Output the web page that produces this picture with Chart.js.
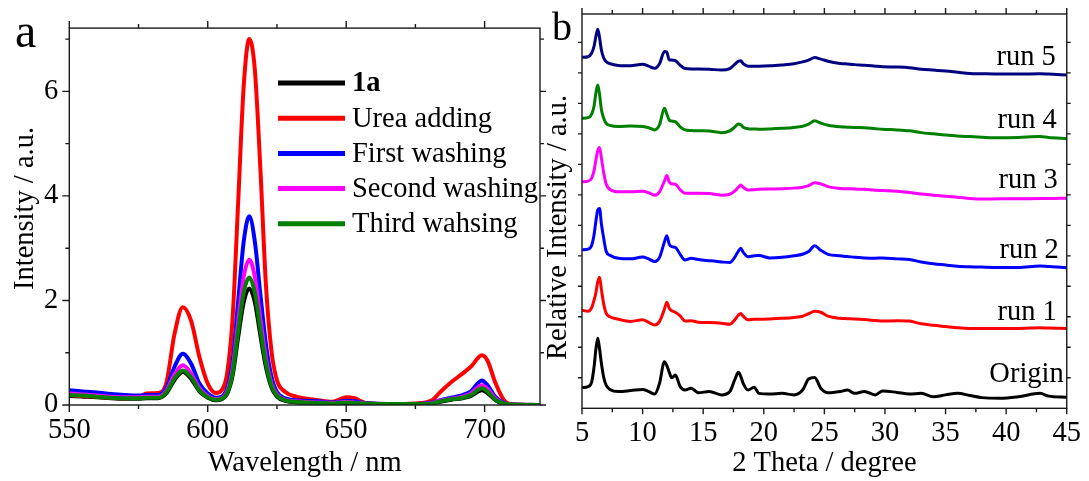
<!DOCTYPE html>
<html>
<head>
<meta charset="utf-8">
<script src="https://cdn.jsdelivr.net/npm/chart.js@4.4.1/dist/chart.umd.min.js"></script>
<style>
  body { margin: 0; background: #fff; width: 1089px; height: 481px; overflow: hidden; }
  canvas.panel { position: absolute; top: 0; }
  #emission { left: 0; }
  #xrd { left: 530px; }
</style>
</head>
<body>
<canvas id="emission" class="panel" width="546" height="481"></canvas>
<canvas id="xrd" class="panel" width="559" height="481"></canvas>
<script>
// ---- (a) emission spectra ----
const wavelength = [550, 555, 560, 565, 570, 575, 578, 582, 585, 588, 591, 594, 597, 600, 603, 605, 607, 609, 611, 613, 615, 617, 619, 621, 623, 625, 628, 632, 640, 645, 650, 653, 657, 665, 675, 681, 684, 688, 692, 695, 699, 701, 704, 707, 710, 720];
const sample1a   = [0.17, 0.16, 0.15, 0.13, 0.12, 0.12, 0.13, 0.13, 0.22, 0.48, 0.63, 0.50, 0.26, 0.14, 0.09, 0.11, 0.21, 0.57, 1.30, 1.97, 2.23, 1.97, 1.33, 0.73, 0.34, 0.16, 0.08, 0.05, 0.04, 0.03, 0.04, 0.04, 0.02, 0.01, 0.01, 0.03, 0.06, 0.10, 0.13, 0.17, 0.28, 0.23, 0.09, 0.02, 0.01, 0];
const ureaAdding = [0.19, 0.17, 0.16, 0.14, 0.13, 0.15, 0.22, 0.23, 0.41, 1.36, 1.87, 1.61, 0.92, 0.41, 0.23, 0.28, 0.60, 1.68, 3.89, 6.11, 7.00, 6.42, 4.53, 2.31, 1.04, 0.47, 0.25, 0.16, 0.09, 0.06, 0.15, 0.13, 0.04, 0.02, 0.03, 0.09, 0.25, 0.44, 0.60, 0.73, 0.95, 0.85, 0.41, 0.09, 0.01, 0];
const firstWash  = [0.28, 0.26, 0.24, 0.21, 0.19, 0.18, 0.19, 0.19, 0.32, 0.73, 0.98, 0.79, 0.41, 0.22, 0.14, 0.16, 0.32, 0.85, 1.99, 3.13, 3.61, 3.13, 2.12, 1.17, 0.54, 0.25, 0.13, 0.09, 0.07, 0.05, 0.08, 0.07, 0.04, 0.02, 0.02, 0.05, 0.09, 0.14, 0.19, 0.26, 0.47, 0.38, 0.15, 0.04, 0.01, 0];
const secondWash = [0.22, 0.20, 0.18, 0.16, 0.15, 0.15, 0.16, 0.16, 0.27, 0.58, 0.76, 0.60, 0.32, 0.17, 0.11, 0.13, 0.26, 0.70, 1.60, 2.45, 2.78, 2.45, 1.65, 0.90, 0.42, 0.20, 0.10, 0.07, 0.05, 0.04, 0.06, 0.05, 0.03, 0.02, 0.02, 0.04, 0.08, 0.12, 0.16, 0.22, 0.38, 0.31, 0.12, 0.03, 0.01, 0];
const thirdWash  = [0.19, 0.18, 0.16, 0.14, 0.13, 0.13, 0.14, 0.14, 0.24, 0.51, 0.66, 0.53, 0.28, 0.15, 0.10, 0.12, 0.23, 0.62, 1.42, 2.15, 2.44, 2.15, 1.45, 0.80, 0.37, 0.18, 0.09, 0.06, 0.04, 0.03, 0.05, 0.04, 0.03, 0.02, 0.02, 0.03, 0.07, 0.11, 0.14, 0.19, 0.32, 0.26, 0.10, 0.03, 0.01, 0];

const waveTicks = [550, 600, 650, 700];
const waveMinor = [575, 625, 675];
const intensityTicks = [0, 2, 4, 6];
const intensityMinor = [1, 3, 5, 7];

// ---- (b) XRD patterns, stacked (offset units) ----
const theta = [5, 5.5, 5.8, 6.0, 6.15, 6.3, 6.45, 6.6, 6.8, 7.0, 7.3, 8, 9, 10, 10.5, 11, 11.4, 11.8, 12.0, 12.2, 12.4, 12.7, 13.1, 13.5, 14, 14.6, 15.5, 16.5, 17.2, 17.6, 17.9, 18.1, 18.3, 18.7, 19.2, 19.6, 20.5, 21.5, 22.5, 23.2, 23.7, 24.2, 24.7, 25.3, 26.3, 26.9, 27.5, 28.3, 29.2, 29.8, 31, 32, 33, 34, 35, 36, 37, 38, 39.5, 41, 42.8, 43.5, 45];
const xrdOrigin = [0.68, 0.71, 0.87, 1.37, 1.95, 2.30, 1.95, 1.48, 1.00, 0.75, 0.62, 0.55, 0.58, 0.62, 0.55, 0.47, 0.82, 1.53, 1.40, 1.18, 1.00, 1.09, 0.71, 0.60, 0.66, 0.51, 0.55, 0.44, 0.55, 0.93, 1.18, 1.05, 0.82, 0.60, 0.69, 0.49, 0.47, 0.49, 0.44, 0.60, 0.96, 1.01, 0.66, 0.51, 0.55, 0.60, 0.49, 0.55, 0.44, 0.57, 0.52, 0.47, 0.49, 0.38, 0.44, 0.49, 0.42, 0.35, 0.33, 0.38, 0.49, 0.40, 0.36];
const xrdRun1 = [3.22, 3.18, 3.30, 3.55, 3.80, 4.15, 4.30, 3.90, 3.40, 3.11, 3.00, 2.92, 2.85, 2.90, 2.82, 2.73, 2.85, 3.25, 3.48, 3.28, 3.20, 3.15, 3.03, 2.86, 2.87, 2.82, 2.81, 2.79, 2.76, 2.90, 3.05, 3.11, 3.02, 2.90, 2.92, 2.92, 2.93, 2.95, 2.98, 3.02, 3.10, 3.18, 3.15, 3.02, 2.95, 2.94, 2.93, 2.91, 2.88, 2.86, 2.87, 2.86, 2.77, 2.72, 2.68, 2.64, 2.62, 2.62, 2.62, 2.62, 2.64, 2.63, 2.62];
const xrdRun2 = [5.20, 5.22, 5.35, 5.70, 6.15, 6.50, 6.55, 6.05, 5.55, 5.14, 5.02, 4.92, 4.90, 4.96, 4.90, 4.81, 4.95, 5.45, 5.66, 5.38, 5.30, 5.28, 5.05, 4.86, 4.92, 4.88, 4.84, 4.80, 4.78, 4.95, 5.15, 5.25, 5.12, 4.97, 5.00, 5.01, 4.93, 4.95, 5.00, 5.05, 5.14, 5.33, 5.18, 5.05, 5.00, 4.98, 4.95, 4.93, 4.92, 4.93, 4.90, 4.88, 4.80, 4.74, 4.70, 4.66, 4.64, 4.63, 4.62, 4.62, 4.67, 4.65, 4.61];
const xrdRun3 = [7.43, 7.45, 7.55, 7.80, 8.15, 8.45, 8.55, 8.20, 7.70, 7.35, 7.18, 7.10, 7.10, 7.12, 7.07, 6.99, 7.10, 7.45, 7.63, 7.42, 7.36, 7.35, 7.17, 7.05, 7.05, 7.05, 7.04, 6.99, 7.02, 7.12, 7.25, 7.32, 7.25, 7.16, 7.17, 7.18, 7.19, 7.20, 7.22, 7.25, 7.30, 7.40, 7.36, 7.27, 7.21, 7.20, 7.19, 7.18, 7.15, 7.14, 7.12, 7.08, 7.03, 6.99, 6.95, 6.92, 6.88, 6.86, 6.87, 6.87, 6.88, 6.88, 6.89];
const xrdRun4 = [9.51, 9.53, 9.65, 9.92, 10.35, 10.60, 10.30, 9.80, 9.50, 9.34, 9.28, 9.24, 9.26, 9.24, 9.20, 9.13, 9.30, 9.84, 9.65, 9.45, 9.42, 9.40, 9.23, 9.13, 9.11, 9.10, 9.09, 9.04, 9.10, 9.22, 9.32, 9.30, 9.22, 9.17, 9.16, 9.15, 9.16, 9.18, 9.21, 9.25, 9.32, 9.43, 9.35, 9.28, 9.23, 9.22, 9.21, 9.20, 9.17, 9.15, 9.13, 9.10, 9.04, 9.00, 8.96, 8.93, 8.91, 8.89, 8.87, 8.88, 8.91, 8.88, 8.85];
const xrdRun5 = [11.51, 11.53, 11.65, 11.88, 12.20, 12.43, 12.15, 11.75, 11.48, 11.37, 11.30, 11.24, 11.23, 11.28, 11.22, 11.15, 11.30, 11.70, 11.68, 11.42, 11.42, 11.40, 11.25, 11.14, 11.13, 11.13, 11.12, 11.09, 11.14, 11.28, 11.38, 11.40, 11.30, 11.22, 11.22, 11.22, 11.23, 11.26, 11.30, 11.36, 11.42, 11.50, 11.45, 11.38, 11.31, 11.29, 11.27, 11.25, 11.22, 11.20, 11.19, 11.17, 11.12, 11.09, 11.06, 11.02, 10.98, 10.97, 10.96, 10.96, 10.97, 10.96, 10.93];

const thetaTicks = [5, 10, 15, 20, 25, 30, 35, 40, 45];
const thetaMinor = [7.5, 12.5, 17.5, 22.5, 27.5, 32.5, 37.5, 42.5];
const stackTicks = [1, 2, 3, 4, 5, 6, 7, 8, 9, 10, 11, 12];

const SERIF = '"Liberation Serif", "Times New Roman", serif';
Chart.defaults.font.family = SERIF;
Chart.defaults.color = '#000';

function series(label, xs, ys, color, width, order) {
  return {
    label,
    data: xs.map((x, i) => ({ x, y: ys[i] })),
    borderColor: color,
    backgroundColor: color,
    borderWidth: width,
    pointRadius: 0,
    cubicInterpolationMode: 'monotone',
    fill: false,
    order
  };
}

// box around the plot with outward major/minor ticks on all four sides
const framePlugin = {
  id: 'frame',
  afterDraw(chart, args, o) {
    const { ctx, chartArea: { left, right, top, bottom }, scales: { x, y } } = chart;
    ctx.save();
    ctx.strokeStyle = '#1a1a1a';
    ctx.lineWidth = 1.4;
    ctx.beginPath();
    const seg = (x0, y0, x1, y1) => { ctx.moveTo(x0, y0); ctx.lineTo(x1, y1); };
    const xMarks = (vals, len) => vals.forEach(v => {
      const px = x.getPixelForValue(v);
      seg(px, bottom, px, bottom + len);
      seg(px, top, px, top - len);
    });
    const yMarks = (vals, len) => vals.forEach(v => {
      const py = y.getPixelForValue(v);
      seg(left, py, left - len, py);
      seg(right, py, right + len, py);
    });
    xMarks(o.xMajor, o.major);
    xMarks(o.xMinor, o.minor);
    yMarks(o.yMajor, o.yLen || o.major);
    yMarks(o.yMinor || [], o.minor);
    ctx.stroke();
    ctx.strokeRect(left, top, right - left, bottom - top);
    ctx.restore();
  }
};

// panel letter
const tagPlugin = {
  id: 'tag',
  afterDraw(chart, args, o) {
    const ctx = chart.ctx;
    ctx.save();
    ctx.fillStyle = '#000';
    ctx.font = o.size + 'px ' + SERIF;
    ctx.textBaseline = 'alphabetic';
    ctx.textAlign = 'left';
    ctx.fillText(o.text, o.x, o.y);
    ctx.restore();
  }
};

// rotated y-axis title placed by its centre
const sideTitlePlugin = {
  id: 'sideTitle',
  afterDraw(chart, args, o) {
    const ctx = chart.ctx;
    ctx.save();
    ctx.translate(o.x, o.y);
    ctx.rotate(-Math.PI / 2);
    ctx.fillStyle = '#000';
    ctx.font = '28.5px ' + SERIF;
    ctx.textAlign = 'center';
    ctx.textBaseline = 'alphabetic';
    ctx.fillText(o.text, 0, 0);
    ctx.restore();
  }
};

// legend drawn inside the plot area of (a)
const insideLegend = {
  id: 'insideLegend',
  afterDraw(chart, args, o) {
    const ctx = chart.ctx;
    ctx.save();
    chart.data.datasets.forEach((ds, i) => {
      const y = o.y0 + i * o.step;
      ctx.strokeStyle = ds.borderColor;
      ctx.lineWidth = 5;
      ctx.beginPath();
      ctx.moveTo(o.x0, y);
      ctx.lineTo(o.x1, y);
      ctx.stroke();
      ctx.fillStyle = '#000';
      ctx.font = (i === 0 ? 'bold ' : '') + '28.5px ' + SERIF;
      ctx.textBaseline = 'middle';
      ctx.textAlign = 'left';
      ctx.fillText(ds.label, o.textX, y + 1);
    });
    ctx.restore();
  }
};

// name written just above the right end of each stacked pattern
const endLabels = {
  id: 'endLabels',
  afterDraw(chart, args, o) {
    const { ctx, chartArea, scales: { y } } = chart;
    ctx.save();
    ctx.fillStyle = '#000';
    ctx.font = '28.5px ' + SERIF;
    ctx.textAlign = 'right';
    ctx.textBaseline = 'alphabetic';
    chart.data.datasets.forEach((ds, i) => {
      const last = ds.data[ds.data.length - 1].y;
      const place = o.place[i];
      ctx.fillText(ds.label, chartArea.right - place.inset, y.getPixelForValue(last) - place.lift);
    });
    ctx.restore();
  }
};

function axisFont() { return { size: 28.5, family: SERIF }; }

new Chart(document.getElementById('emission'), {
  type: 'line',
  data: {
    datasets: [
      series('1a', wavelength, sample1a, '#000000', 4, 5),
      series('Urea adding', wavelength, ureaAdding, '#ff0000', 4, 4),
      series('First washing', wavelength, firstWash, '#0000ff', 4, 3),
      series('Second washing', wavelength, secondWash, '#ff00ff', 4, 2),
      series('Third wahsing', wavelength, thirdWash, '#008000', 4, 1)
    ]
  },
  options: {
    responsive: false,
    animation: false,
    devicePixelRatio: 1,
    layout: { padding: { left: 0, top: 25, right: 6, bottom: 0 } },
    scales: {
      x: {
        type: 'linear', min: 550, max: 720,
        afterBuildTicks: s => { s.ticks = waveTicks.map(v => ({ value: v })); },
        afterFit: s => { s.height = 76; },
        grid: { display: false, drawTicks: false },
        border: { display: false },
        ticks: { padding: 8, color: '#000', font: axisFont(), maxRotation: 0 },
        title: { display: true, text: 'Wavelength / nm', padding: 0, color: '#000', font: axisFont() }
      },
      y: {
        type: 'linear', min: 0, max: 7.21,
        afterBuildTicks: s => { s.ticks = intensityTicks.map(v => ({ value: v })); },
        afterFit: s => { s.width = 69.3; },
        grid: { display: false, drawTicks: false },
        border: { display: false },
        ticks: { padding: 11, color: '#000', font: axisFont() }
      }
    },
    plugins: {
      legend: { display: false },
      tooltip: { enabled: false },
      frame: { xMajor: waveTicks, xMinor: waveMinor, yMajor: intensityTicks, yMinor: intensityMinor, major: 7, minor: 4 },
      tag: { text: 'a', x: 15, y: 47, size: 48 },
      sideTitle: { text: 'Intensity / a.u.', x: 33, y: 208.5 },
      insideLegend: { x0: 278, x1: 345, textX: 352, y0: 83, step: 35.2 }
    }
  },
  plugins: [framePlugin, tagPlugin, sideTitlePlugin, insideLegend]
});

new Chart(document.getElementById('xrd'), {
  type: 'line',
  data: {
    datasets: [
      series('Origin', theta, xrdOrigin, '#000000', 3, 1),
      series('run 1', theta, xrdRun1, '#ff0000', 3, 1),
      series('run 2', theta, xrdRun2, '#0000ff', 3, 1),
      series('run 3', theta, xrdRun3, '#ff00ff', 3, 1),
      series('run 4', theta, xrdRun4, '#008000', 3, 1),
      series('run 5', theta, xrdRun5, '#000080', 3, 1)
    ]
  },
  options: {
    responsive: false,
    animation: false,
    devicePixelRatio: 1,
    layout: { padding: { left: 0, top: 14, right: 18, bottom: 0 } },
    scales: {
      x: {
        type: 'linear', min: 5, max: 45,
        afterBuildTicks: s => { s.ticks = thetaTicks.map(v => ({ value: v })); },
        afterFit: s => { s.height = 72.7; },
        grid: { display: false, drawTicks: false },
        border: { display: false },
        ticks: { padding: 8, color: '#000', font: axisFont(), maxRotation: 0 },
        title: { display: true, text: '2 Theta / degree', padding: 0, color: '#000', font: axisFont() }
      },
      y: {
        type: 'linear', min: 0, max: 12.93,
        afterBuildTicks: s => { s.ticks = stackTicks.map(v => ({ value: v })); },
        afterFit: s => { s.width = 52; },
        grid: { display: false, drawTicks: false },
        border: { display: false },
        ticks: { display: false }
      }
    },
    plugins: {
      legend: { display: false },
      tooltip: { enabled: false },
      frame: { xMajor: thetaTicks, xMinor: thetaMinor, yMajor: stackTicks, major: 6, minor: 4, yLen: 4 },
      tag: { text: 'b', x: 22, y: 40, size: 40 },
      sideTitle: { text: 'Relative Intensity / a.u.', x: 36, y: 227.5 },
      endLabels: {
        place: [
          { inset: 3, lift: 15 },
          { inset: 10, lift: 8 },
          { inset: 8, lift: 10 },
          { inset: 9, lift: 10 },
          { inset: 10, lift: 10 },
          { inset: 11, lift: 10 }
        ]
      }
    }
  },
  plugins: [framePlugin, tagPlugin, sideTitlePlugin, endLabels]
});
</script>
</body>
</html>
